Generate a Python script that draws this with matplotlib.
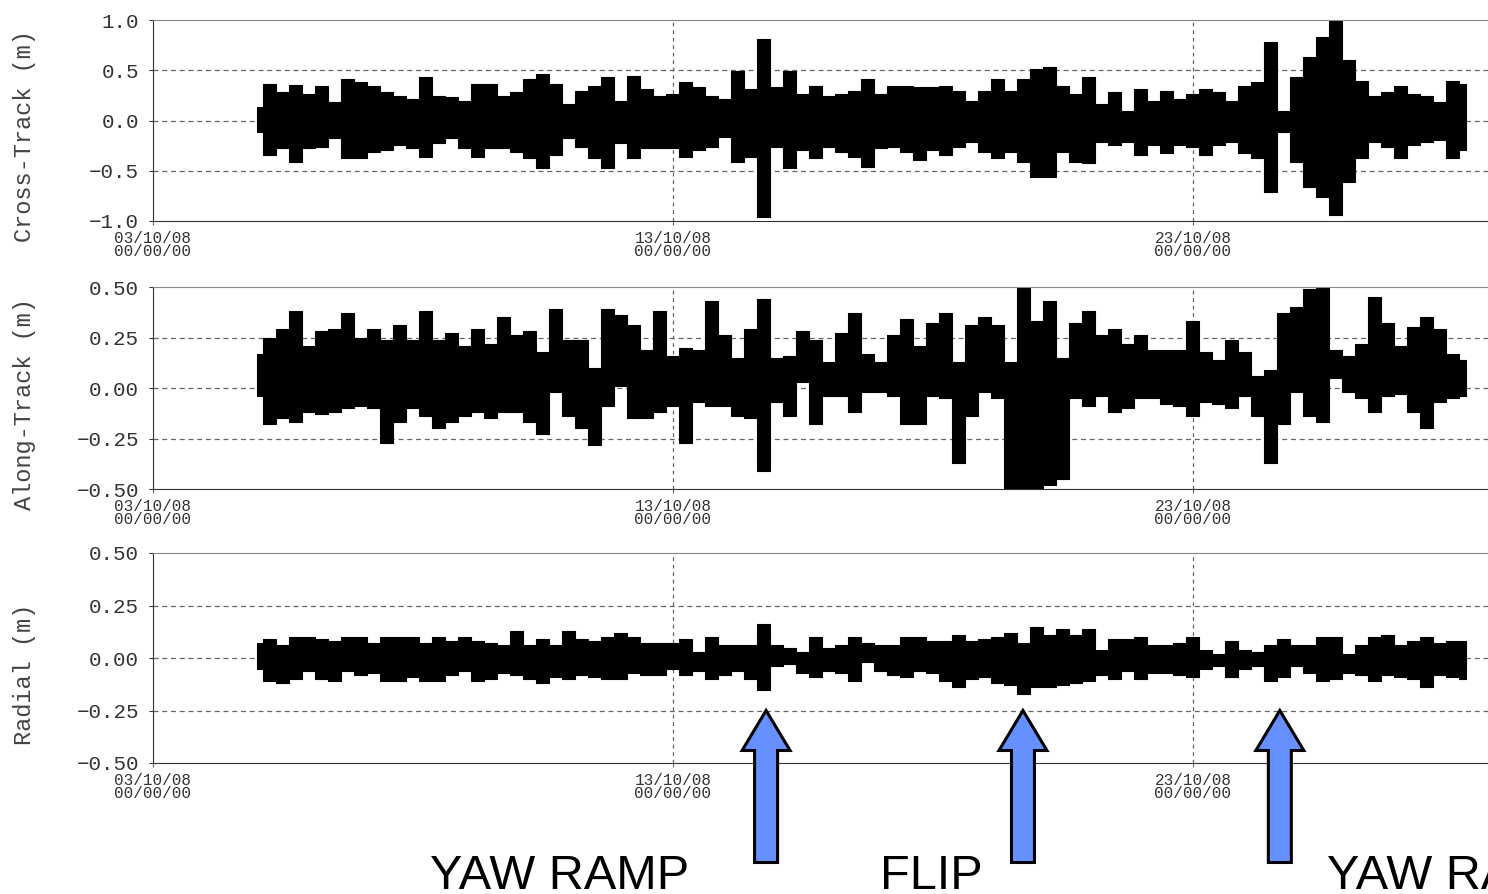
import numpy as np
import matplotlib
matplotlib.use("Agg")
import matplotlib.pyplot as plt
import matplotlib.dates as mdates
from matplotlib.patches import Polygon
from matplotlib.transforms import IdentityTransform
from datetime import datetime

# residuals: upper / lower envelope every 6 h, starting 05/10/08 00:00
cross_hi = [0.13, 0.36, 0.28, 0.35, 0.26, 0.34, 0.18, 0.41, 0.38, 0.34,
            0.28, 0.24, 0.21, 0.43, 0.24, 0.23, 0.19, 0.36, 0.36, 0.24,
            0.28, 0.41, 0.46, 0.36, 0.16, 0.29, 0.34, 0.43, 0.19, 0.44,
            0.31, 0.24, 0.26, 0.38, 0.33, 0.24, 0.21, 0.49, 0.31, 0.81,
            0.33, 0.49, 0.26, 0.34, 0.24, 0.26, 0.29, 0.41, 0.26, 0.34,
            0.34, 0.33, 0.33, 0.34, 0.29, 0.19, 0.29, 0.41, 0.29, 0.41,
            0.51, 0.53, 0.34, 0.26, 0.43, 0.16, 0.28, 0.09, 0.31, 0.19,
            0.29, 0.21, 0.26, 0.31, 0.28, 0.19, 0.34, 0.38, 0.78, 0.09,
            0.43, 0.63, 0.83, 0.99, 0.60, 0.39, 0.24, 0.28, 0.34, 0.26,
            0.24, 0.18, 0.39, 0.36]
cross_lo = [-0.11, -0.34, -0.27, -0.41, -0.27, -0.26, -0.17, -0.37, -0.37, -0.31,
            -0.29, -0.24, -0.27, -0.36, -0.22, -0.17, -0.27, -0.36, -0.27, -0.27,
            -0.31, -0.37, -0.47, -0.34, -0.17, -0.26, -0.37, -0.47, -0.22, -0.37,
            -0.27, -0.27, -0.27, -0.36, -0.29, -0.26, -0.16, -0.41, -0.36, -0.96,
            -0.26, -0.47, -0.29, -0.37, -0.26, -0.31, -0.36, -0.46, -0.27, -0.26,
            -0.31, -0.39, -0.29, -0.34, -0.26, -0.21, -0.31, -0.37, -0.31, -0.41,
            -0.56, -0.56, -0.31, -0.41, -0.42, -0.21, -0.24, -0.21, -0.34, -0.24,
            -0.32, -0.24, -0.26, -0.34, -0.24, -0.21, -0.32, -0.37, -0.71, -0.11,
            -0.41, -0.66, -0.76, -0.94, -0.61, -0.37, -0.21, -0.26, -0.37, -0.24,
            -0.21, -0.19, -0.37, -0.29]

along_hi = [0.17, 0.25, 0.29, 0.38, 0.21, 0.28, 0.29, 0.37, 0.25, 0.29,
            0.24, 0.31, 0.24, 0.38, 0.24, 0.27, 0.21, 0.29, 0.22, 0.35,
            0.26, 0.28, 0.18, 0.39, 0.24, 0.24, 0.10, 0.39, 0.36, 0.31,
            0.19, 0.38, 0.16, 0.20, 0.19, 0.43, 0.26, 0.15, 0.29, 0.44,
            0.15, 0.16, 0.28, 0.24, 0.13, 0.27, 0.37, 0.17, 0.13, 0.26,
            0.34, 0.21, 0.32, 0.37, 0.13, 0.31, 0.35, 0.31, 0.13, 0.50,
            0.33, 0.43, 0.15, 0.32, 0.38, 0.26, 0.29, 0.22, 0.26, 0.19,
            0.19, 0.19, 0.33, 0.18, 0.14, 0.24, 0.18, 0.06, 0.09, 0.37,
            0.40, 0.49, 0.50, 0.19, 0.16, 0.22, 0.45, 0.32, 0.21, 0.30,
            0.35, 0.29, 0.17, 0.14]
along_lo = [-0.04, -0.18, -0.15, -0.17, -0.12, -0.13, -0.12, -0.10, -0.09, -0.10,
            -0.27, -0.17, -0.10, -0.14, -0.20, -0.17, -0.14, -0.12, -0.15, -0.12,
            -0.12, -0.17, -0.23, -0.02, -0.14, -0.20, -0.28, -0.09, 0.01, -0.15,
            -0.15, -0.12, -0.09, -0.27, -0.07, -0.09, -0.09, -0.14, -0.15, -0.41,
            -0.07, -0.14, 0.03, -0.18, -0.04, -0.04, -0.12, -0.02, -0.02, -0.04,
            -0.18, -0.18, -0.04, -0.05, -0.37, -0.14, -0.02, -0.05, -0.50, -0.50,
            -0.50, -0.48, -0.45, -0.05, -0.09, -0.04, -0.12, -0.10, -0.05, -0.05,
            -0.08, -0.09, -0.14, -0.07, -0.08, -0.10, -0.04, -0.14, -0.37, -0.18,
            -0.02, -0.14, -0.17, 0.05, -0.02, -0.05, -0.12, -0.04, -0.03, -0.12,
            -0.20, -0.07, -0.05, -0.04]

radial_hi = [0.07, 0.09, 0.06, 0.10, 0.10, 0.09, 0.08, 0.10, 0.10, 0.07,
             0.10, 0.10, 0.10, 0.07, 0.10, 0.08, 0.10, 0.08, 0.07, 0.06,
             0.13, 0.06, 0.09, 0.06, 0.13, 0.09, 0.08, 0.10, 0.12, 0.10,
             0.07, 0.07, 0.07, 0.09, 0.03, 0.10, 0.06, 0.06, 0.06, 0.16,
             0.06, 0.05, 0.03, 0.10, 0.05, 0.06, 0.10, 0.07, 0.06, 0.06,
             0.10, 0.10, 0.08, 0.08, 0.11, 0.08, 0.09, 0.10, 0.12, 0.07,
             0.15, 0.11, 0.14, 0.11, 0.14, 0.04, 0.09, 0.09, 0.10, 0.06,
             0.06, 0.07, 0.10, 0.04, 0.02, 0.08, 0.04, 0.03, 0.06, 0.09,
             0.06, 0.06, 0.10, 0.10, 0.02, 0.06, 0.10, 0.11, 0.06, 0.08,
             0.10, 0.07, 0.08, 0.08]
radial_lo = [-0.05, -0.11, -0.12, -0.10, -0.06, -0.10, -0.11, -0.06, -0.08, -0.07,
             -0.11, -0.11, -0.09, -0.11, -0.11, -0.08, -0.06, -0.11, -0.10, -0.07,
             -0.08, -0.10, -0.12, -0.09, -0.10, -0.08, -0.09, -0.10, -0.10, -0.07,
             -0.08, -0.08, -0.05, -0.08, -0.06, -0.10, -0.08, -0.06, -0.10, -0.15,
             -0.04, -0.03, -0.07, -0.09, -0.06, -0.07, -0.11, -0.02, -0.06, -0.08,
             -0.09, -0.06, -0.07, -0.11, -0.14, -0.10, -0.09, -0.12, -0.13, -0.17,
             -0.14, -0.14, -0.13, -0.12, -0.11, -0.08, -0.10, -0.06, -0.10, -0.07,
             -0.07, -0.08, -0.09, -0.05, -0.04, -0.09, -0.05, -0.04, -0.11, -0.09,
             -0.04, -0.07, -0.11, -0.10, -0.07, -0.08, -0.11, -0.08, -0.09, -0.10,
             -0.14, -0.08, -0.09, -0.10]

# attitude events (days after 03/10/08) and captions
event_days = [11.79, 16.73, 21.67]
captions = ["YAW RAMP", "FLIP", "YAW RAMP"]
caption_x = [430, 880, 1327]

t0 = mdates.date2num(datetime(2008, 10, 3))
t = t0 + 2.0 + 0.25 * np.arange(len(cross_hi))

mono = "Liberation Mono"
txt = "#333333"

fig = plt.figure(figsize=(14.88, 8.94), dpi=100)
W, H = 1488.0, 894.0
left = 153 / W
panels = [
    ("Cross-Track (m)", cross_hi, cross_lo, 20, 221, [-1.0, -0.5, 0.0, 0.5, 1.0], "%.1f"),
    ("Along-Track (m)", along_hi, along_lo, 287, 489, [-0.5, -0.25, 0.0, 0.25, 0.5], "%.2f"),
    ("Radial (m)", radial_hi, radial_lo, 553, 763, [-0.5, -0.25, 0.0, 0.25, 0.5], "%.2f"),
]

axes = []
for label, hi, lo, top, bot, yt, fmt in panels:
    ax = fig.add_axes([left, 1 - bot / H, 1 - left, (bot - top) / H])
    ax.fill_between(t, lo, hi, step="mid", color="black", lw=0.8, edgecolor="black")
    ax.set_xlim(t0, t0 + (W - 153) / 52.0)
    ax.set_ylim(yt[0], yt[-1])
    ax.set_yticks(yt)
    ax.set_yticklabels([(fmt % v).replace("-", "\u2212") for v in yt])
    ax.set_xticks([t0, t0 + 10, t0 + 20])
    ax.xaxis.set_major_formatter(mdates.DateFormatter("%d/%m/%y\n%H/%M/%S"))
    for y in yt[1:-1]:
        ax.axhline(y, color="#666666", lw=0.9, ls=(0, (4, 3)), zorder=0)
    for x in [t0 + 10, t0 + 20]:
        ax.axvline(x, color="#666666", lw=0.9, ls=(0, (3, 3)), zorder=0)
    ax.spines["right"].set_visible(False)
    ax.spines["top"].set_color("#888888")
    ax.spines["left"].set_color("#333333")
    ax.spines["bottom"].set_color("#333333")
    ax.tick_params(axis="y", length=3, color="#333333", pad=7,
                   labelsize=15, labelcolor=txt)
    ax.tick_params(axis="x", length=3, color="#666666", pad=4,
                   labelsize=11.5, labelcolor=txt)
    for lab in ax.get_yticklabels() + ax.get_xticklabels():
        lab.set_family(mono)
    for lab in ax.get_xticklabels():
        lab.set_linespacing(0.85)
    ax.set_ylabel(label, family=mono, fontsize=17, color="#444444", labelpad=0)
    ax.yaxis.set_label_coords(-117 / (W - 153), 0.5 - 16 / (bot - top))
    axes.append(ax)

# arrows marking the events, tip on the -0.25 line of the radial panel
fig.canvas.draw()
ax3 = axes[2]
for d in event_days:
    xt, yt_ = ax3.transData.transform((t0 + d, -0.25))
    yb = yt_ - 152
    hl, hw, sw = 40, 24, 11.5
    pts = [(xt, yt_), (xt + hw, yt_ - hl), (xt + sw, yt_ - hl), (xt + sw, yb),
           (xt - sw, yb), (xt - sw, yt_ - hl), (xt - hw, yt_ - hl)]
    fig.add_artist(Polygon(pts, closed=True, facecolor="#6690ff", edgecolor="black",
                           lw=2.2, transform=IdentityTransform(), zorder=5))

for c, xc in zip(captions, caption_x):
    fig.text(xc / W, 5 / H, c, fontsize=35, va="baseline", ha="left",
             family="Liberation Sans", color="black")

fig.savefig("out.png", dpi=100)
